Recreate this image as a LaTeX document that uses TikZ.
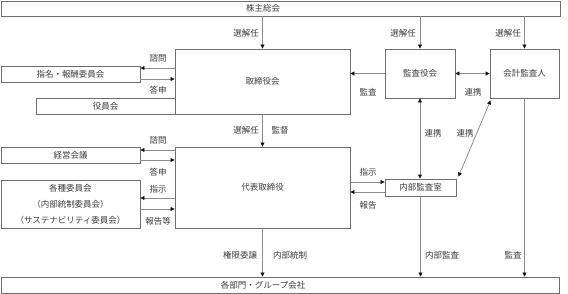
\documentclass[tikz,border=0pt]{standalone}
\usepackage{fontspec}
\newfontfamily\jpfont{Noto Sans CJK JP}
\usepackage{tikz}
\usetikzlibrary{arrows.meta, positioning, calc}
\usepackage{xcolor}
\definecolor{OrgLine}{HTML}{8C8C8C}
\definecolor{OrgBorder}{HTML}{6E6E6E}
\definecolor{OrgText}{HTML}{3A3A3A}
\definecolor{OrgHead}{HTML}{111111}
\tikzset{
    % Node styles
    orgbox/.style={
        rectangle,
        draw=OrgBorder,
        fill=white,
        line width=0.9pt,
        inner sep=0pt,
        text centered,
        text=OrgText,
        font=\jpfont\fontsize{8.5}{16}\selectfont
    },
    % Arrow styles
    orgarrow/.style={
        -{Triangle[length=4pt,width=4pt,OrgHead]},
        line width=0.8pt,
        OrgLine
    },
    bothways/.style={
        {Triangle[length=4pt,width=4pt,OrgHead]}-{Triangle[length=4pt,width=4pt,OrgHead]},
        line width=0.8pt,
        OrgLine
    },
    % Label style
    orglabel/.style={
        text=OrgText,
        inner sep=0pt,
        font=\jpfont\fontsize{8.5}{10}\selectfont
    }
}
\begin{document}
\begin{tikzpicture}[x=1pt, y=-1pt]
    \useasboundingbox (0,0) rectangle (568,294);

    % Top and bottom bars
    \node[orgbox, minimum width=559pt, minimum height=15pt] (meeting) at (280.5,8.5) {};
    \node[orglabel] (meetingtext) at (263,8.5) {株主総会};
    \node[orgbox, minimum width=558pt, minimum height=16pt] (units) at (280,285) {};
    \node[orglabel] (unitstext) at (263,285) {各部門・グループ会社};

    % Boards
    \node[orgbox, minimum width=175pt, minimum height=65pt] (board) at (262.5,81.5) {取締役会};
    \node[orgbox, minimum width=175pt, minimum height=81pt] (ceo) at (262.5,187.5) {代表取締役};
    \node[orgbox, minimum width=70pt, minimum height=49pt] (auditboard) at (420,73.5) {監査役会};
    \node[orgbox, minimum width=69pt, minimum height=49pt] (auditor) at (524.5,73.5) {会計監査人};
    \node[orgbox, minimum width=71pt, minimum height=17pt] (internal) at (420.5,187.5) {内部監査室};

    % Committees
    \node[orgbox, minimum width=139pt, minimum height=16pt] (nomination) at (70.5,74) {指名・報酬委員会};
    \node[orgbox, minimum width=139pt, minimum height=16pt] (officers) at (105.5,106) {役員会};
    \node[orgbox, minimum width=139pt, minimum height=16pt] (management) at (70.5,155) {経営会議};
    \node[orgbox, minimum width=139pt, minimum height=48pt, align=center] (committees) at (70.5,204)
        {各種委員会\\（内部統制委員会）\\（サステナビリティ委員会）};

    % Appointment from the shareholders
    \draw[orgarrow] (board.north |- meeting.south) -- (board.north);
    \draw[orgarrow] (auditboard.north |- meeting.south) -- (auditboard.north);
    \draw[orgarrow] (auditor.north |- meeting.south) -- (auditor.north);
    \node[orglabel] at (246,33) {選解任};
    \node[orglabel] at (403,33) {選解任};
    \node[orglabel] at (508,33) {選解任};

    % Board and nomination committee
    \draw[orgarrow] ([yshift=6pt]nomination.east -| board.west) -- ([yshift=6pt]nomination.east);
    \draw[orgarrow] ([yshift=-5pt]nomination.east) -- ([yshift=-5pt]nomination.east -| board.west);
    \node[orglabel] at (158,58) {諮問};
    \node[orglabel] at (158,90) {答申};

    % Audit and cooperation
    \draw[orgarrow] (auditboard.west) -- (auditboard.west -| board.east);
    \node[orglabel] at (368,92) {監査};
    \draw[bothways] (auditboard.east) -- (auditboard.east -| auditor.west);
    \node[orglabel] at (473,92) {連携};
    \draw[bothways] (auditboard.south) -- (auditboard.south |- internal.north);
    \node[orglabel] at (433,133) {連携};
    \draw[bothways] ([xshift=1pt,yshift=-2pt]auditor.south west) -- ([xshift=2pt,yshift=2pt]internal.north east);
    \node[orglabel] at (465,133) {連携};

    % Board to representative director
    \draw[orgarrow] (board.south) -- (board.south |- ceo.north);
    \node[orglabel] at (246,130) {選解任};
    \node[orglabel] at (280,130) {監督};

    % Representative director and meetings
    \draw[orgarrow] ([yshift=5pt]management.east -| ceo.west) -- ([yshift=5pt]management.east);
    \draw[orgarrow] ([yshift=-5pt]management.east) -- ([yshift=-5pt]management.east -| ceo.west);
    \node[orglabel] at (158,140) {諮問};
    \node[orglabel] at (158,172) {答申};
    \draw[orgarrow] ([yshift=6pt]committees.east -| ceo.west) -- ([yshift=6pt]committees.east);
    \draw[orgarrow] ([yshift=-5pt]committees.east) -- ([yshift=-5pt]committees.east -| ceo.west);
    \node[orglabel] at (158,189) {指示};
    \node[orglabel] at (158,221) {報告等};

    % Representative director and internal audit
    \draw[orgarrow] ([yshift=5.5pt]ceo.east |- internal.west) -- ([yshift=5.5pt]internal.west);
    \draw[orgarrow] ([yshift=-4.5pt]internal.west) -- ([yshift=-4.5pt]ceo.east |- internal.west);
    \node[orglabel] at (368,172) {指示};
    \node[orglabel] at (368,205) {報告};

    % Down to the business units
    \draw[orgarrow] (ceo.south) -- (ceo.south |- units.north);
    \node[orglabel] at (240,255) {権限委譲};
    \node[orglabel] at (290,255) {内部統制};
    \draw[orgarrow] (internal.south) -- (internal.south |- units.north);
    \node[orglabel] at (442,255) {内部監査};
    \draw[orgarrow] (auditor.south) -- (auditor.south |- units.north);
    \node[orglabel] at (513,255) {監査};
\end{tikzpicture}
\end{document}
